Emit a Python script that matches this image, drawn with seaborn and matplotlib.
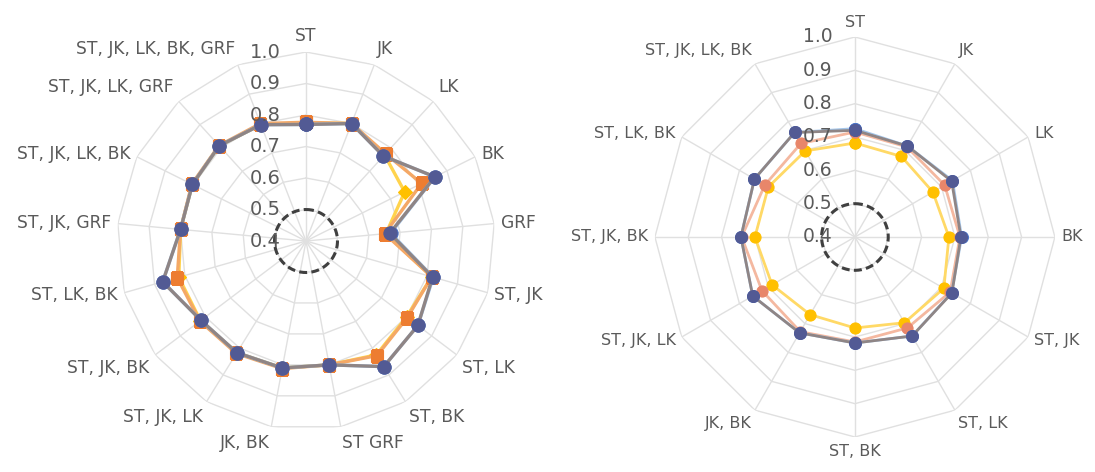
import numpy as np
import pandas as pd
import matplotlib
matplotlib.use("Agg")
import matplotlib.pyplot as plt
import seaborn as sns

# ---- data -------------------------------------------------------------
left_categories = ["ST", "JK", "LK", "BK", "GRF", "ST, JK", "ST, LK", "ST, BK",
                   "ST GRF", "JK, BK", "ST, JK, LK", "ST, JK, BK", "ST, LK, BK",
                   "ST, JK, GRF", "ST, JK, LK, BK", "ST, JK, LK, GRF",
                   "ST, JK, LK, BK, GRF"]
left_blue = [0.770, 0.800, 0.765, 0.857, 0.670, 0.820, 0.845, 0.869, 0.800,
             0.810, 0.817, 0.818, 0.873, 0.800, 0.803, 0.809, 0.796]
left_orange = [0.777, 0.800, 0.775, 0.810, 0.651, 0.815, 0.803, 0.828, 0.800,
               0.812, 0.820, 0.822, 0.825, 0.800, 0.805, 0.810, 0.800]
left_yellow = [0.775, 0.800, 0.770, 0.750, 0.655, 0.815, 0.800, 0.825, 0.800,
               0.810, 0.817, 0.820, 0.820, 0.800, 0.803, 0.809, 0.796]
left_navy = [0.770, 0.800, 0.765, 0.857, 0.667, 0.818, 0.845, 0.869, 0.800,
             0.810, 0.817, 0.818, 0.873, 0.800, 0.803, 0.809, 0.796]

right_categories = ["ST", "JK", "LK", "BK", "ST, JK", "ST, LK", "ST, BK", "JK, BK",
                    "ST, JK, LK", "ST, JK, BK", "ST, LK, BK", "ST, JK, LK, BK"]
right_blue = [0.725, 0.715, 0.738, 0.720, 0.735, 0.743, 0.718, 0.732,
              0.754, 0.742, 0.748, 0.762]
right_orange = [0.715, 0.712, 0.711, 0.715, 0.730, 0.715, 0.715, 0.728,
                0.722, 0.740, 0.712, 0.724]
right_yellow = [0.682, 0.679, 0.670, 0.682, 0.708, 0.697, 0.673, 0.669,
                0.687, 0.700, 0.700, 0.698]
right_navy = [0.720, 0.715, 0.735, 0.718, 0.736, 0.743, 0.718, 0.732,
              0.754, 0.742, 0.748, 0.762]

chance_level = 0.5
r_ticks = [0.4, 0.5, 0.6, 0.7, 0.8, 0.9, 1.0]
r_tick_labels = ["0.4", "0.5", "0.6", "0.7", "0.8", "0.9", "1.0"]

# ---- style ------------------------------------------------------------
sns.set_theme(style="white")
plt.rcParams["font.family"] = ["DejaVu Sans"]
TEXT = "#5a5a5a"
GRID = "#e0e0e0"

fig = plt.figure(figsize=(10.95, 4.72), dpi=100)


def radar(ax, cats, series, cat_size, tick_size, tick_pad, lw):
    n = len(cats)
    theta = np.arange(n) * 2 * np.pi / n
    closed = np.append(theta, 2 * np.pi)

    ax.set_theta_zero_location("N")
    ax.set_theta_direction(-1)
    ax.set_facecolor("none")
    ax.grid(False)
    ax.spines["polar"].set_visible(False)
    ax.set_xticks([])
    ax.set_yticks([])

    # polygon grid and spokes
    for v in r_ticks[1:]:
        ax.plot(closed, [v] * (n + 1), color=GRID, lw=1.0, zorder=1)
    for t in theta:
        ax.plot([t, t], [r_ticks[0], r_ticks[-1]], color=GRID, lw=1.0, zorder=1)

    # data series
    for vals, line_c, mark_c, marker, ms in series:
        df = pd.DataFrame({"angle": closed, "value": list(vals) + [vals[0]]})
        sns.lineplot(data=df, x="angle", y="value", ax=ax, sort=False,
                     color=line_c, lw=lw, marker=marker, markersize=ms,
                     markerfacecolor=mark_c, markeredgecolor=mark_c,
                     markeredgewidth=0.8, zorder=3)

    # dashed reference circle
    circ_t = np.linspace(0, 2 * np.pi, 200)
    ax.plot(circ_t, [chance_level] * len(circ_t), color="#404040", lw=2.2,
            ls=(0, (2.6, 1.4)), zorder=4)

    ax.set_ylim(r_ticks[0], r_ticks[-1])
    ax.set_xlabel("")
    ax.set_ylabel("")

    # value labels along the vertical axis
    for v, lab in zip(r_ticks, r_tick_labels):
        ax.annotate(lab, xy=(0, v), xytext=(-tick_pad, 0),
                    textcoords="offset points", ha="right", va="center",
                    fontsize=tick_size, color=TEXT, zorder=5,
                    annotation_clip=False)

    # category labels outside the outer ring
    for t, lab in zip(theta, cats):
        s, c = np.sin(t), np.cos(t)
        ha = "left" if s > 0.05 else ("right" if s < -0.05 else "center")
        va = "bottom" if c > 0.6 else ("top" if c < -0.55 else "center")
        pad = 5
        ax.annotate(lab, xy=(t, r_ticks[-1]), xytext=(pad * s, pad * c),
                    textcoords="offset points", ha=ha, va=va,
                    fontsize=cat_size, color=TEXT, annotation_clip=False)


ax_left = fig.add_axes([0.10685, 0.08898, 0.3452, 0.8008], projection="polar")
radar(ax_left, left_categories,
      [(left_yellow, "#ffd34d", "#ffc000", "D", 7),
       (left_orange, "#f4a866", "#ed7d31", "s", 8.5),
       (left_blue, "#a4c6ea", "#4a74c8", "o", 9.5),
       (left_navy, "#8f8585", "#525a94", "o", 9.5)],
      cat_size=12.3, tick_size=14, tick_pad=18, lw=2.4)

ax_right = fig.add_axes([0.5981, 0.07415, 0.3653, 0.8475], projection="polar")
radar(ax_right, right_categories,
      [(right_yellow, "#ffd966", "#ffc000", "o", 8),
       (right_orange, "#f4b8a0", "#e8866a", "o", 8),
       (right_blue, "#a4c6ea", "#4a74c8", "o", 8.5),
       (right_navy, "#8f8585", "#525a94", "o", 8.5)],
      cat_size=11.5, tick_size=13.5, tick_pad=16, lw=2.0)

fig.savefig("out.png", dpi=100)
